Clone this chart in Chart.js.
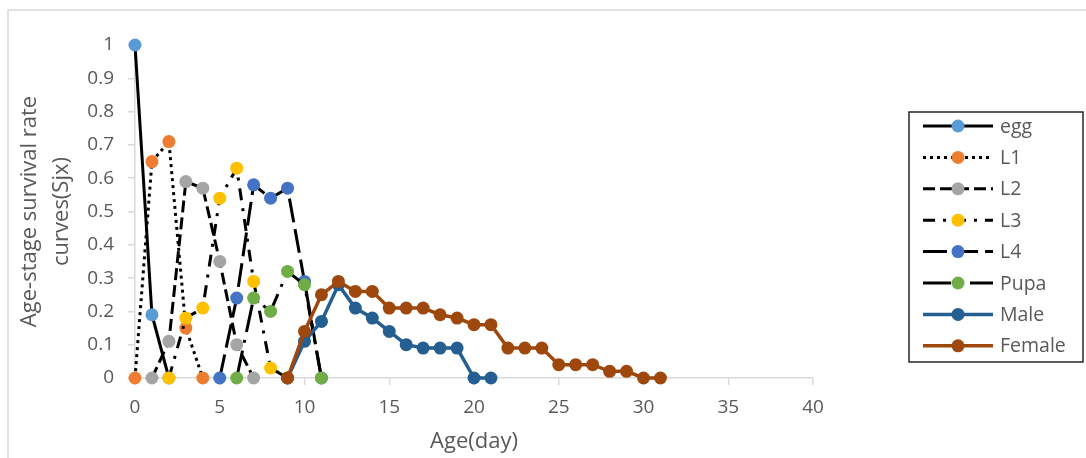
<!DOCTYPE html>
<html><head><meta charset="utf-8">
<script src="https://cdn.jsdelivr.net/npm/chart.js@4.4.0/dist/chart.umd.min.js"></script>
<style>html,body{margin:0;padding:0;background:#fff}#wrap{width:1086px;height:458px;position:relative}</style>
</head><body><div id="wrap"><canvas id="c" width="1086" height="458"></canvas></div>
<script>
// ---- data ----
const seriesNames = ['egg','L1','L2','L3','L4','Pupa','Male','Female'];
const startDays   = [0, 0, 1, 2, 5, 6, 9, 9];
const egg    = [1, 0.19, 0];
const L1     = [0, 0.65, 0.71, 0.15, 0];
const L2     = [0, 0.11, 0.59, 0.57, 0.35, 0.1, 0];
const L3     = [0, 0.18, 0.21, 0.54, 0.63, 0.29, 0.03, 0];
const L4     = [0, 0.24, 0.58, 0.54, 0.57, 0.29, 0];
const pupa   = [0, 0.24, 0.2, 0.32, 0.28, 0];
const male   = [0, 0.11, 0.17, 0.28, 0.21, 0.18, 0.14, 0.1, 0.09, 0.09, 0.09, 0, 0];
const female = [0, 0.14, 0.25, 0.29, 0.26, 0.26, 0.21, 0.21, 0.21, 0.19, 0.18, 0.16, 0.16, 0.09, 0.09, 0.09, 0.04, 0.04, 0.04, 0.02, 0.02, 0, 0];
const xTickMin = 0, xTickMax = 40, xTickStep = 5;
const yTickMin = 0, yTickMax = 1, yTickStep = 0.1;
const xTitle = 'Age(day)';
const yTitle = ['Age-stage survival rate', 'curves(Sjx)'];

// ---- styles ----
const values = [egg, L1, L2, L3, L4, pupa, male, female];
const markerColors = ['#5B9BD5','#ED7D31','#A5A5A5','#FFC000','#4472C4','#70AD47','#255E91','#9E480E'];
const lineColors   = ['#000','#000','#000','#000','#000','#000','#255E91','#9E480E'];
const dashes = [[], [3,4], [12,5], [12,8,3,8], [24,7], [28,8,3,8], [], []];
const lineWidths = [3,3,3,3,3,3,3.5,3.5];
const txt = '#595959';
const FONT = "'Open Sans', 'Liberation Sans', sans-serif";

const datasets = values.map((arr, i) => ({
  label: seriesNames[i],
  data: arr.map((v, k) => ({x: startDays[i] + k, y: v})),
  borderColor: lineColors[i],
  borderWidth: lineWidths[i],
  borderDash: dashes[i],
  borderCapStyle: 'butt',
  pointRadius: 6.5,
  pointHoverRadius: 6.5,
  pointBorderWidth: 0,
  pointBackgroundColor: markerColors[i],
  pointBorderColor: markerColors[i],
  tension: 0,
  fill: false,
  clip: false,
  order: values.length - 1 - i
}));

const framePlugin = {
  id: 'frame',
  beforeDraw(chart) {
    const c = chart.ctx;
    c.save();
    c.fillStyle = '#fff';
    c.fillRect(0, 0, chart.width, chart.height);
    c.strokeStyle = '#d9d9d9';
    c.lineWidth = 1.5;
    c.strokeRect(8, 10, chart.width + 10, chart.height + 10);
    c.restore();
  }
};

const legendPlugin = {
  id: 'xlLegend',
  afterDraw(chart) {
    const c = chart.ctx;
    c.save();
    c.strokeStyle = '#262626';
    c.lineWidth = 1.5;
    c.strokeRect(909, 112, 174, 250);
    seriesNames.forEach((name, i) => {
      const y = 126 + i * 31.4;
      c.beginPath();
      c.setLineDash(dashes[i]);
      c.lineCap = 'butt';
      c.strokeStyle = lineColors[i];
      c.lineWidth = lineWidths[i];
      c.moveTo(923, y); c.lineTo(993, y);
      c.stroke();
      c.setLineDash([]);
      c.beginPath();
      c.fillStyle = markerColors[i];
      c.arc(958, y, 6.5, 0, Math.PI * 2);
      c.fill();
      c.fillStyle = txt;
      c.font = "19.5px " + FONT;
      c.textAlign = 'left';
      c.textBaseline = 'middle';
      c.fillText(name, 1000, y + 1);
    });
    c.restore();
  }
};

new Chart(document.getElementById('c'), {
  type: 'line',
  data: { datasets },
  options: {
    responsive: false,
    animation: false,
    events: [],
    layout: { padding: { left: 8, top: 45, right: 273, bottom: 3 } },
    plugins: { legend: { display: false }, tooltip: { enabled: false } },
    scales: {
      x: {
        type: 'linear',
        min: xTickMin, max: xTickMax,
        ticks: { stepSize: xTickStep, color: txt, font: { family: FONT, size: 19 }, padding: 11, maxRotation: 0 },
        grid: { drawOnChartArea: false, drawTicks: true, tickLength: 7, color: '#d9d9d9', lineWidth: 1.5 },
        border: { display: true, color: '#d9d9d9', width: 1.5 },
        title: { display: true, text: xTitle, color: txt, font: { family: FONT, size: 22 }, padding: { top: 4, bottom: 0 } },
        afterFit(scale) { scale.height = 458 - 378 - 3; }
      },
      y: {
        type: 'linear',
        min: yTickMin, max: yTickMax,
        ticks: {
          stepSize: yTickStep, color: txt, font: { family: FONT, size: 19 }, padding: 14,
          callback: v => String(Number(v.toFixed(1)))
        },
        grid: { drawOnChartArea: false, drawTicks: true, tickLength: 7, color: '#d9d9d9', lineWidth: 1.5 },
        border: { display: true, color: '#d9d9d9', width: 1.5 },
        title: { display: true, text: yTitle, color: txt, font: { family: FONT, size: 22, lineHeight: 1.45 }, padding: { top: 6, bottom: 0 } },
        afterFit(scale) { scale.width = 135 - 8; }
      }
    }
  },
  plugins: [framePlugin, legendPlugin]
});
</script></body></html>
